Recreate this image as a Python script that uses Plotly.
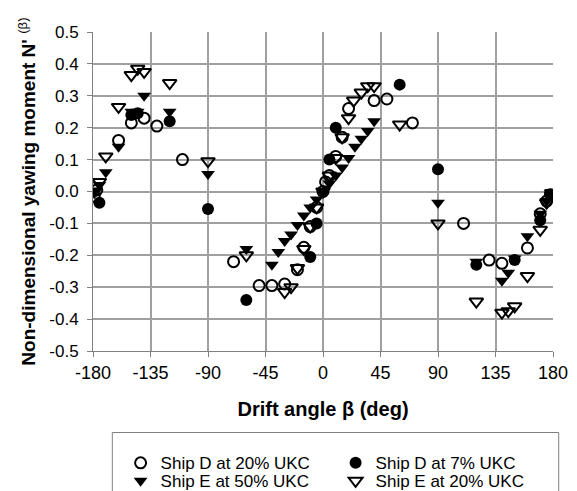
import plotly.graph_objects as go

# Ship D at 20% UKC (open circles)
d20_x = [-179, -177, -160, -150, -140, -130, -110, -70, -50, -40, -30, -20, -15, -10, -5, 0, 2, 5, 10, 15, 20, 40, 50, 70, 110, 130, 140, 160, 170, 175, 178]
d20_y = [-0.015, 0.005, 0.16, 0.215, 0.23, 0.205, 0.10, -0.22, -0.295, -0.295, -0.29, -0.245, -0.175, -0.11, -0.05, 0.0, 0.03, 0.05, 0.11, 0.17, 0.26, 0.285, 0.29, 0.215, -0.10, -0.215, -0.225, -0.177, -0.07, -0.03, -0.01]

# Ship D at 7% UKC (filled circles)
d7_x = [-175, -150, -145, -120, -90, -60, -10, -5, 5, 10, 60, 90, 120, 150, 170, 178]
d7_y = [-0.035, 0.24, 0.245, 0.22, -0.055, -0.34, -0.205, -0.10, 0.10, 0.20, 0.335, 0.07, -0.23, -0.215, -0.09, -0.01]

# Ship E at 50% UKC (filled down triangles)
e50_x = [-178, -175, -170, -160, -150, -145, -140, -120, -90, -60, -40, -35, -30, -25, -20, -15, -10, -5, 0, 5, 10, 15, 20, 25, 30, 35, 40, 90, 120, 140, 145, 150, 160, 170, 175, 178]
e50_y = [0.0, 0.02, 0.06, 0.14, 0.25, 0.25, 0.30, 0.25, 0.055, -0.18, -0.23, -0.19, -0.155, -0.135, -0.105, -0.075, -0.05, -0.025, 0.0, 0.025, 0.05, 0.075, 0.105, 0.14, 0.165, 0.19, 0.22, -0.035, -0.22, -0.28, -0.255, -0.21, -0.14, -0.07, -0.03, -0.01]

# Ship E at 20% UKC (open down triangles)
e20_x = [-179, -175, -170, -160, -150, -145, -140, -120, -90, -60, -30, -25, -20, -15, -10, -5, 0, 5, 10, 15, 20, 24, 30, 35, 40, 60, 90, 120, 140, 145, 150, 160, 170, 175, 179]
e20_y = [0.0, 0.03, 0.11, 0.265, 0.365, 0.385, 0.375, 0.34, 0.095, -0.20, -0.315, -0.30, -0.24, -0.18, -0.11, -0.05, 0.0, 0.05, 0.105, 0.17, 0.23, 0.285, 0.31, 0.33, 0.33, 0.21, -0.10, -0.345, -0.38, -0.375, -0.36, -0.265, -0.12, -0.035, -0.005]

x_ticks = [-180, -135, -90, -45, 0, 45, 90, 135, 180]
x_labels = [str(v) for v in x_ticks]
y_ticks = [-0.5, -0.4, -0.3, -0.2, -0.1, 0.0, 0.1, 0.2, 0.3, 0.4, 0.5]
y_labels = ["%.1f" % v for v in y_ticks]

FONT = "Liberation Sans, Arial, sans-serif"

fig = go.Figure()
fig.add_trace(go.Scatter(x=d20_x, y=d20_y, mode="markers", name="Ship D at 20% UKC", legend="legend",
                         marker=dict(symbol="circle-open", size=11, color="black", line=dict(width=2, color="black"))))
fig.add_trace(go.Scatter(x=d7_x, y=d7_y, mode="markers", name="Ship D at 7% UKC", legend="legend",
                         marker=dict(symbol="circle", size=12, color="black")))
fig.add_trace(go.Scatter(x=e50_x, y=e50_y, mode="markers", name="Ship E at 50% UKC", legend="legend2",
                         marker=dict(symbol="triangle-down", size=12, color="black")))
fig.add_trace(go.Scatter(x=e20_x, y=e20_y, mode="markers", name="Ship E at 20% UKC", legend="legend2",
                         marker=dict(symbol="triangle-down-open", size=12, color="black", line=dict(width=2, color="black"))))

fig.add_shape(type="rect", xref="paper", yref="paper", x0=0.042, x1=1.0124, y0=-0.6, y1=-0.2555,
              line=dict(color="#808080", width=1), fillcolor="rgba(0,0,0,0)")

leg_common = dict(orientation="h", xanchor="left", yanchor="top",
                  entrywidth=170, entrywidthmode="pixels",
                  font=dict(size=17, family=FONT), borderwidth=0, bgcolor="rgba(0,0,0,0)",
                  itemclick=False)

fig.update_layout(
    width=577, height=491,
    margin=dict(l=85, r=32, t=24, b=148, autoexpand=False),
    paper_bgcolor="white", plot_bgcolor="white",
    font=dict(family=FONT, size=17, color="black"),
    showlegend=True,
    legend=dict(x=0.060, y=-0.2956, **leg_common),
    legend2=dict(x=0.060, y=-0.352, **leg_common),
    xaxis=dict(range=[-180, 180], tickvals=x_ticks, ticktext=x_labels, showgrid=True, gridcolor="#a0a0a0", gridwidth=1.5,
               zeroline=False, showline=True, linecolor="#808080", linewidth=1, automargin=False,
               ticks="outside", ticklen=5, tickcolor="#808080", tickfont=dict(size=18),
               title=dict(text="<b>Drift angle β (deg)</b>", font=dict(size=20), standoff=20)),
    yaxis=dict(range=[-0.5, 0.5], tickvals=y_ticks, ticktext=y_labels, showgrid=True, gridcolor="#a0a0a0", gridwidth=1.5,
               zeroline=False, showline=True, linecolor="#808080", linewidth=1, automargin=False,
               ticks="outside", ticklen=5, tickcolor="#808080", tickfont=dict(size=17),
               ticklabelstandoff=5,
               title=dict(text="<b>Non-dimensional yawing moment N'</b> <sup>(β)</sup>", font=dict(size=19), standoff=8)),
)

fig.write_html("out.html")
